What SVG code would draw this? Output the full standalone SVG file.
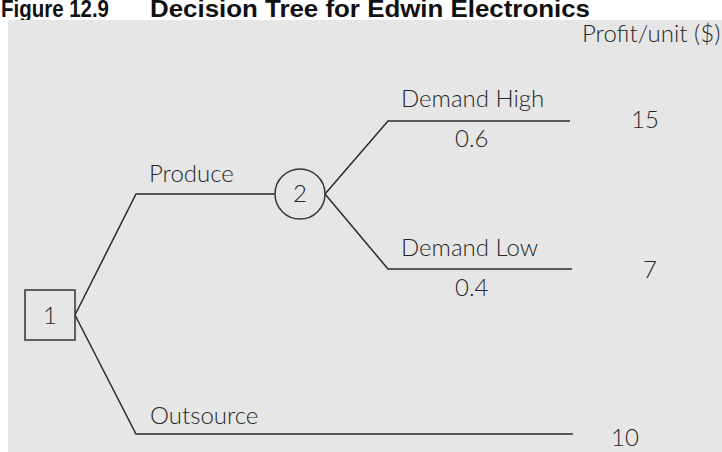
<svg xmlns="http://www.w3.org/2000/svg" width="722" height="452" viewBox="0 0 722 452">
<style>
.t{font-family:Lato,"Open Sans","Liberation Sans",sans-serif;font-size:24px;font-weight:300;fill:#262626}
.title{font-family:"Liberation Sans",Arial,sans-serif;font-weight:bold;font-size:24px;fill:#111}
.ln{fill:none;stroke:#2a2a2a;stroke-width:1.5}
.nd{fill:none;stroke:#333;stroke-width:1.5}
</style>
<rect x="0" y="0" width="722" height="452" fill="#fff"/>
<text class="title" x="1" y="17" textLength="108" lengthAdjust="spacingAndGlyphs">Figure 12.9</text>
<text class="title" x="150" y="17" textLength="440" lengthAdjust="spacingAndGlyphs">Decision Tree for Edwin Electronics</text>
<rect x="8" y="20" width="714" height="432" fill="#e6e6e6"/>
<text class="t" x="582" y="42">Profit/unit ($)</text>
<g id="connectors">
<polyline class="ln" points="75,315 136,194 275,194"/>
<polyline class="ln" points="325,194 388,121 570,121"/>
<polyline class="ln" points="325,194 388,269 572,269"/>
<polyline class="ln" points="75,315 136,434 573,434"/>
<text class="t" x="149" y="182">Produce</text>
<text class="t" x="401" y="107">Demand High</text>
<text class="t" x="455" y="147">0.6</text>
<text class="t" x="401" y="256">Demand Low</text>
<text class="t" x="455" y="296">0.4</text>
<text class="t" x="150" y="424">Outsource</text>
</g>
<g id="node1">
<rect class="nd" x="25" y="290" width="50" height="50"/>
<text class="t" x="50" y="324" text-anchor="middle">1</text>
</g>
<g id="node2">
<circle class="nd" cx="300" cy="194" r="25"/>
<text class="t" x="300" y="202" text-anchor="middle">2</text>
</g>
<g id="payoff-high"><text class="t" x="631" y="128">15</text></g>
<g id="payoff-low"><text class="t" x="643" y="278">7</text></g>
<g id="payoff-outsource"><text class="t" x="611" y="446">10</text></g>
</svg>
